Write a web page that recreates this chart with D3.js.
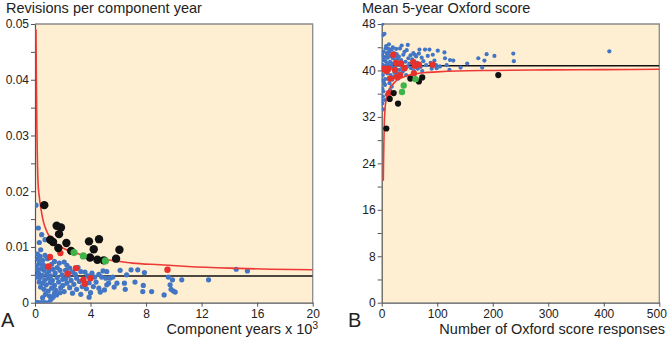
<!DOCTYPE html>
<html>
<head>
<meta charset="utf-8">
<script src="https://cdn.jsdelivr.net/npm/d3@7"></script>
<style>
  html, body { margin: 0; padding: 0; background: #fff; }
  svg { display: block; font-family: "Liberation Sans", Arial, sans-serif; }
</style>
</head>
<body>
<div id="chart"></div>
<script>
// ---- panel A: revisions per component year vs component years (x 10^3)
const revMean = 0.0048;
const revBlue = [
  [0.07,0],[0.24,0],[0.48,0],[0.72,0],[1.0,0],
  [0.07,0.0175],[0.24,0.0134],[0.48,0.0122],[0.72,0.0113],[0.31,0.0108],[0.41,0.0095],[0.17,0.0087],[0.36,0.0083],[0.72,0.0085],
  [0.2,0.0078],[0.55,0.0076],[0.9,0.0079],[0.3,0.007],[0.6,0.0068],[0.1,0.0066],[0.8,0.0064],[1.2,0.0069],[1.4,0.0074],
  [0.45,0.0061],[0.65,0.0058],[1.0,0.0057],[1.3,0.006],[1.6,0.0063],[1.75,0.0071],[0.25,0.0053],[0.5,0.0049],[0.85,0.0051],
  [1.1,0.0048],[1.45,0.0053],[1.8,0.0058],[0.35,0.0045],[0.7,0.0041],[0.95,0.0044],[1.25,0.004],[1.6,0.0045],[1.95,0.005],
  [0.55,0.0035],[0.8,0.0032],[1.1,0.0036],[1.4,0.0031],[1.7,0.0037],[2.0,0.0042],[0.4,0.0028],[0.65,0.0024],[0.95,0.0021],
  [1.2,0.0026],[1.5,0.0022],[1.85,0.0027],[0.75,0.0015],[1.05,0.0012],[1.3,0.001],[1.55,0.0014],[1.8,0.0018],[0.55,0.0009],
  [1.15,0.0006],[1.4,0.0017],[0.15,0.0059],[0.3,0.0037],[0.12,0.0046],
  [2.1,0.0073],[2.3,0.0067],[2.5,0.0062],[2.2,0.0058],[2.7,0.0055],[2.4,0.0048],[2.9,0.0051],[2.2,0.0043],[2.6,0.004],
  [3.0,0.0044],[2.3,0.0035],[2.8,0.0033],[3.2,0.0038],[2.5,0.0027],[3.0,0.0024],[3.4,0.0029],[2.1,0.002],[2.7,0.0017],
  [3.3,0.0015],[3.6,0.0055],[3.8,0.0048],[3.3,0.0056],[3.9,0.0036],[3.7,0.0025],[3.9,0.001],[3.5,0.0042],[2.0,0.0031],[3.1,0.0063],
  [4.1,0.0053],[4.3,0.0046],[4.6,0.0051],[4.9,0.0057],[5.17,0.0056],[4.4,0.0037],[4.8,0.0046],[5.1,0.0044],[5.4,0.0044],
  [4.2,0.0029],[4.6,0.0026],[5.17,0.0032],[5.3,0.0035],[4.7,0.0019],[5.0,0.0023],[5.6,0.0046],[5.7,0.0028],[4.0,0.0018],
  [6.13,0.0058],[6.6,0.005],[6.92,0.0059],[7.4,0.0059],[6.44,0.0035],[5.9,0.0035],[7.2,0.0037],[7.88,0.0054],[6.5,0.0024],
  [7.8,0.0031],[7.76,0.002],[8.4,0.002],[9.3,0.0014],[9.6,0.0046],[9.9,0.0041],[9.73,0.0032],[9.8,0.0024],[9.97,0.0021],
  [10.1,0.0019],[10.57,0.0041],[12.5,0.0041],[14.49,0.006],[15.3,0.0057]
];
const revRed = [
  [1.08,0.0082],[0.96,0.0065],[1.83,0.0089],[2.35,0.0052],[2.95,0.0062],[3.48,0.0041],[3.6,0.0034],[3.99,0.0044],[9.54,0.0059]
];
const revBlack = [
  [0.67,0.0175],[1.56,0.0138],[1.87,0.0135],[1.73,0.0123],[1.1,0.0113],[1.3,0.0109],[2.26,0.0107],[1.68,0.0098],
  [2.6,0.0093],[3.89,0.011],[4.61,0.0114],[4.23,0.0096],[3.96,0.0081],[4.49,0.0077],[5.84,0.0079],[6.08,0.0095],[4.95,0.0076]
];
const revGreen = [[2.81,0.009],[3.48,0.0084],[5.07,0.0075]];
const revLimit = [
  [0.07,0.049],[0.1,0.04],[0.13,0.032],[0.17,0.026],[0.22,0.0215],[0.3,0.0192],[0.45,0.0165],[0.6,0.0146],[0.8,0.0131],
  [1.08,0.0117],[1.5,0.0106],[2.0,0.0098],[2.8,0.009],[3.5,0.0085],[4.5,0.0079],[5.5,0.0076],[7,0.0071],[9,0.0068],
  [11,0.0065],[14,0.0062],[17,0.006],[20,0.0059]
];

// ---- panel B: mean 5-year Oxford score vs number of responses
const oxMean = 40.8;
const oxBlue = [
  [1,48],[2,46.1],[5,46.3],[13,44.5],[7,43.8],[3,43.2],[9,43],[1,42.6],[5,42.3],[11,42.2],[3,41.8],[7,41.6],[1,41],[4,40.7],
  [8,40.9],[2,40.2],[6,39.8],[10,39.5],[2,39.2],[0,38.3],[6,38.5],[4,37.9],[6,37.5],[1,36.9],[3,36.4],[9,35.8],[2,35.5],
  [6,34.9],[1,34.3],[3,33.3],[0,34.8],[12,38.6],
  [14,43.2],[16,42.5],[18,43.6],[20,42.1],[15,41.5],[17,40.8],[19,41.2],[22,43],[24,42.4],[13,40.1],[21,40.4],[23,39.6],
  [16,39.2],[19,38.4],[25,41.7],[27,42.8],[14,37.8],[18,37.2],[11,41.1],[12,43.7],[26,40.9],[28,39.5],[29,42],[22,38.9],
  [10,42.8],[8,44.2],[20,44],[26,43.7],[15,36.6],
  [31,42.4],[33,43.8],[35,41.8],[37,40.6],[32,40.1],[39,42.7],[41,43.2],[43,41.5],[45,43.5],[46,40.7],[48,42.1],[34,39.3],
  [38,39.8],[42,40.2],[50,41.2],[52,42.6],[55,41.9],[53,40.4],[57,43],[36,44.3],[30,38.6],[44,39.2],[58,39.9],[47,44.4],
  [60,42.7],[62,42.4],[64,41.3],[67,42.9],[70,40.6],[72,42.2],[75,41.6],[78,43.6],[80,40.9],[83,42.5],[86,43.6],[88,41.3],
  [90,40.3],[95,41.7],[65,40.3],[73,39.9],[68,43.6],[92,42.7],[98,40.9],
  [101,43.4],[105,40.7],[99,40.4],[113,43.1],[114,42.1],[117,40.9],[122,40.1],[123,41.8],[129,41.7],[142,40.5],[154,41.2],
  [174,42.1],[181,40.5],[185,41.7],[189,42.8],[203,42.5],[237,42.9],[238,41.6],[410,43.3]
];
const oxRed = [
  [21,42.7],[3,40.3],[9,39.9],[12,40.3],[15,38.6],[13,36.1],[26,41.3],[35,41.2],[41,40.4],[27,38.9],[33,39.2],
  [57,41.4],[60,40.8],[67,41],[58,39.5],[92,41],[24,40.1]
];
const oxBlack = [
  [8.3,30],[14.4,35.1],[21.6,36.1],[29.4,34.3],[51.6,38.6],[67,38.1],[73,38.8],[210,39.2]
];
const oxGreen = [[36.6,36.3],[39.6,37.4],[61,38.5]];
const oxLimit = [
  [2.9,21],[3.3,24],[4,28],[4.7,31],[6,33.3],[8,35],[11,36],[15,37],[20,37.6],[27,38.3],[35,38.7],[45,39.1],
  [60,39.4],[75,39.6],[100,39.75],[135,39.9],[200,40],[300,40.1],[400,40.15],[500,40.2]
];

const W = 668, H = 337;
const svg = d3.select("#chart").append("svg").attr("width", W).attr("height", H);

const colors = { bg: "#feefd3", blue: "#4275c4", red: "#e8302c", black: "#111", green: "#3fb549", curve: "#ee3a36" };

function panel(cfg) {
  const x = d3.scaleLinear().domain(cfg.xDomain).range([cfg.left, cfg.right]);
  const y = d3.scaleLinear().domain(cfg.yDomain).range([cfg.bottom, cfg.top]);
  const g = svg.append("g");

  g.append("rect")
    .attr("x", cfg.left).attr("y", cfg.top)
    .attr("width", cfg.right - cfg.left).attr("height", cfg.bottom - cfg.top)
    .attr("fill", colors.bg);

  // top + right frame
  g.append("path")
    .attr("d", `M${cfg.left},${cfg.top}H${cfg.right}V${cfg.bottom}`)
    .attr("fill", "none").attr("stroke", "#8a8a8a").attr("stroke-width", 1.3);

  const yAxis = d3.axisLeft(y).tickValues(cfg.yTicks).tickSize(4).tickSizeOuter(0).tickPadding(2)
    .tickFormat(cfg.yFormat);
  const xAxis = d3.axisBottom(x).tickValues(cfg.xTicks).tickSize(4).tickSizeOuter(0).tickPadding(3)
    .tickFormat(cfg.xFormat);

  const ya = g.append("g").attr("transform", `translate(${cfg.left},0)`).call(yAxis);
  const xa = g.append("g").attr("transform", `translate(0,${cfg.bottom})`).call(xAxis);
  [ya, xa].forEach(a => {
    a.select(".domain").attr("stroke", "#555").attr("stroke-width", 1.2);
    a.selectAll(".tick line").attr("stroke", "#555");
    a.selectAll(".tick text").attr("fill", "#222").style("font-size", "12px")
      .style("font-family", '"Liberation Sans", Arial, sans-serif');
  });
  // keep the last x label inside the window
  xa.selectAll(".tick text").filter((d, i, n) => i === n.length - 1).attr("dx", cfg.lastDx || 0);

  const clip = "clip" + cfg.id;
  g.append("clipPath").attr("id", clip).append("rect")
    .attr("x", cfg.left).attr("y", cfg.top - 1)
    .attr("width", cfg.right - cfg.left).attr("height", cfg.bottom - cfg.top + 1);

  const body = g.append("g").attr("clip-path", `url(#${clip})`);

  body.append("line")
    .attr("x1", cfg.left).attr("x2", cfg.right)
    .attr("y1", y(cfg.mean)).attr("y2", y(cfg.mean))
    .attr("stroke", "#111").attr("stroke-width", 1.6);

  const dots = (data, fill, r) => body.append("g").selectAll("circle")
    .data(data).join("circle")
    .attr("cx", d => x(d[0])).attr("cy", d => y(d[1]))
    .attr("r", r).attr("fill", fill);

  dots(cfg.blue, colors.blue, cfg.r.blue);

  body.append("path")
    .datum(cfg.limit)
    .attr("d", d3.line().x(d => x(d[0])).y(d => y(d[1])).curve(d3.curveMonotoneX))
    .attr("fill", "none").attr("stroke", colors.curve).attr("stroke-width", 1.6);

  dots(cfg.red, colors.red, cfg.r.red);
  dots(cfg.black, colors.black, cfg.r.black);
  dots(cfg.green, colors.green, cfg.r.green);

  g.append("text").attr("x", cfg.titleX).attr("y", 13)
    .style("font-size", "14.5px").attr("fill", "#222").text(cfg.title);

  g.append("text").attr("x", cfg.letterX).attr("y", 327)
    .style("font-size", "20px").attr("fill", "#222").text(cfg.letter);

  const xt = g.append("text").attr("x", cfg.xTitleRight).attr("y", 334)
    .attr("text-anchor", "end").style("font-size", "14.5px").attr("fill", "#222");
  xt.append("tspan").text(cfg.xTitle);
  if (cfg.xSup) xt.append("tspan").attr("dy", -5).style("font-size", "10px").text(cfg.xSup);
}

panel({
  id: "A", left: 35, right: 312.7, top: 24, bottom: 302.7,
  xDomain: [0, 20], yDomain: [0, 0.05],
  xTicks: d3.range(0, 21, 4), yTicks: d3.range(0, 11).map(i => i * 0.005),
  xFormat: d => d, yFormat: (d, i) => i % 2 ? "" : (d === 0 ? "0" : d.toFixed(2)),
  mean: revMean, blue: revBlue, red: revRed, black: revBlack, green: revGreen, limit: revLimit,
  r: { blue: 2.6, red: 3.2, black: 4.2, green: 3.6 },
  title: "Revisions per component year", titleX: 6,
  letter: "A", letterX: 1,
  xTitle: "Component years x 10", xSup: "3", xTitleRight: 318
});

panel({
  id: "B", left: 381.7, right: 659.3, top: 24, bottom: 302.7,
  xDomain: [0, 500], yDomain: [0, 48],
  xTicks: d3.range(0, 501, 100), yTicks: d3.range(0, 49, 4),
  xFormat: d => d, yFormat: (d, i) => i % 2 ? "" : d,
  mean: oxMean, blue: oxBlue, red: oxRed, black: oxBlack, green: oxGreen, limit: oxLimit,
  r: { blue: 2.1, red: 3.2, black: 3.1, green: 3.2 },
  title: "Mean 5-year Oxford score", titleX: 362,
  letter: "B", letterX: 348, lastDx: -3,
  xTitle: "Number of Oxford score responses", xTitleRight: 665
});
</script>
</body>
</html>
